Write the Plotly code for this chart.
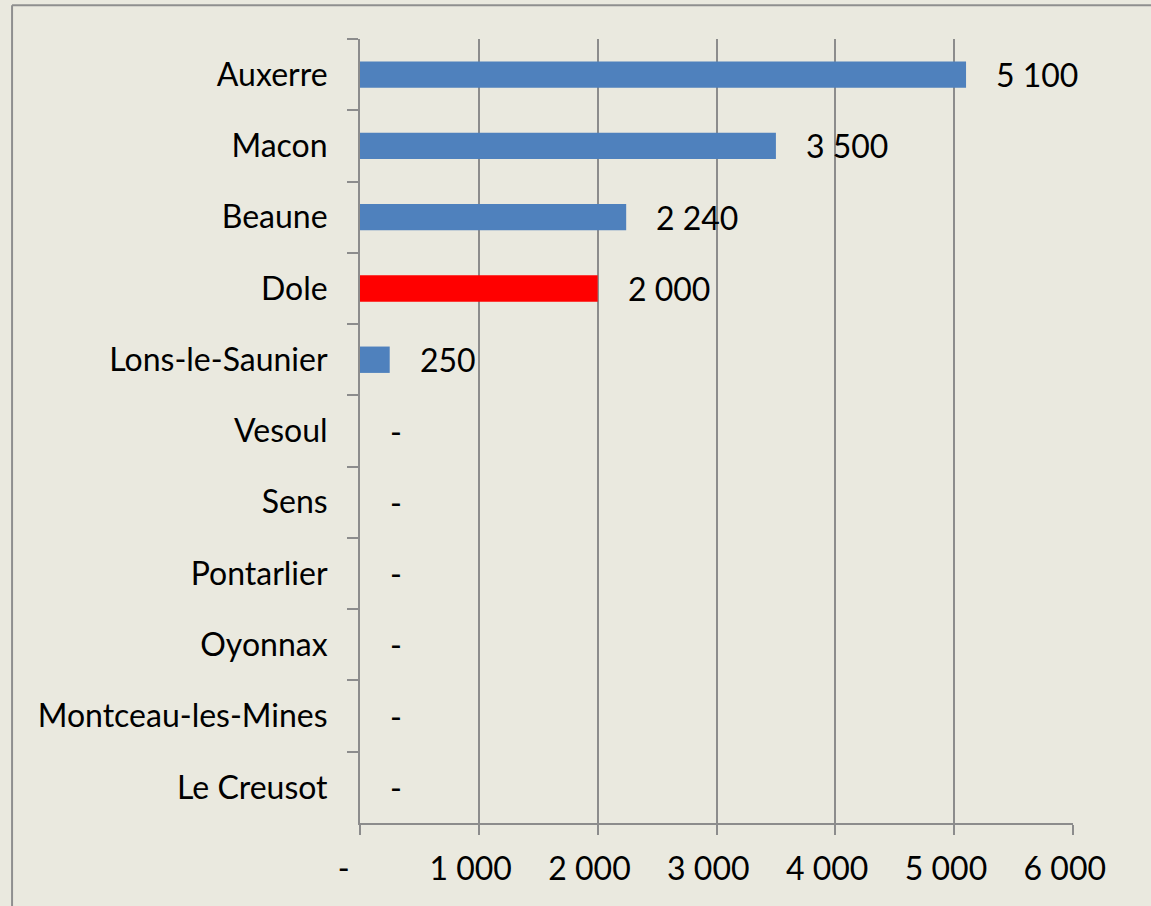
import plotly.graph_objects as go

# Cities, top to bottom
cities = ['Auxerre', 'Macon', 'Beaune', 'Dole', 'Lons-le-Saunier', 'Vesoul',
          'Sens', 'Pontarlier', 'Oyonnax', 'Montceau-les-Mines', 'Le Creusot']
values = [5100, 3500, 2240, 2000, 250, 0, 0, 0, 0, 0, 0]
labels = ['5 100', '3 500', '2 240', '2 000', '250', '-', '-', '-', '-', '-', '-']
highlight = 'Dole'

tick_vals = [0, 1000, 2000, 3000, 4000, 5000, 6000]
tick_text = ['-', '1 000', '2 000', '3 000', '4 000', '5 000', '6 000']

BG = '#EAE9DF'
GRID = '#8C8C8C'
FONT = 'Lato'

colors = ['#FF0000' if c == highlight else '#4F81BD' for c in cities]

fig = go.Figure(go.Bar(
    x=values, y=cities, orientation='h',
    marker=dict(color=colors, line=dict(width=0)),
    width=0.37,
))

# value labels sit well right of the bar end, like Excel's data labels
for c, v, t in zip(cities, values, labels):
    fig.add_annotation(x=v, y=c, text=t, xanchor='left', yanchor='middle',
                       xshift=28, showarrow=False,
                       font=dict(family=FONT, size=32, color='black'))

# accounting-style padding on the tick labels
pad_text = [t + '\u00a0' * (4 if t == '-' else 2) for t in tick_text]

fig.update_layout(
    width=1151, height=906,
    margin=dict(l=360, r=78, t=39, b=83),
    paper_bgcolor=BG, plot_bgcolor=BG,
    showlegend=False,
    font=dict(family=FONT, size=32, color='black'),
    xaxis=dict(range=[0, 6000], tickvals=tick_vals, ticktext=pad_text,
               showgrid=True, gridcolor=GRID, gridwidth=2,
               zeroline=False, showline=True, linecolor=GRID, linewidth=2,
               ticks='outside', ticklen=10, tickwidth=2, tickcolor=GRID,
               ticklabelstandoff=7),
    yaxis=dict(categoryorder='array', categoryarray=cities, autorange=False,
               range=[len(cities) - 0.5, -0.5],
               showline=True, linecolor=GRID, linewidth=2,
               ticks='outside', tickson='boundaries', ticklen=11,
               tickwidth=2, tickcolor=GRID, showgrid=False,
               ticklabelstandoff=24),
    # outer chart-area border (right and bottom edges fall off the picture)
    shapes=[
        dict(type='line', xref='paper', yref='paper',
             x0=-0.488, x1=-0.488, y0=-0.3, y1=1.043,
             line=dict(color='#8F8F8F', width=2), layer='below'),
        dict(type='line', xref='paper', yref='paper',
             x0=-0.488, x1=1.3, y0=1.043, y1=1.043,
             line=dict(color='#8F8F8F', width=2), layer='below'),
    ],
)

# drop the page's default body margin so the figure fills the window
fig.write_html('out.html', config={'displayModeBar': False},
               post_script="document.body.style.margin='0';")
